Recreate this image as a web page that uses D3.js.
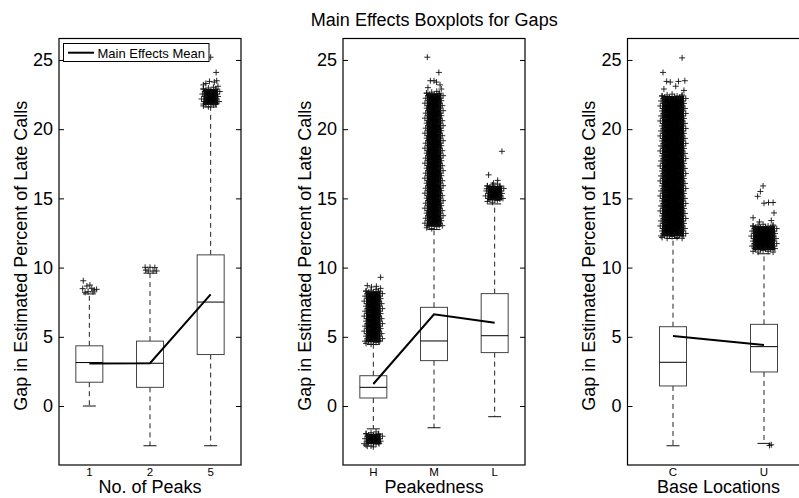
<!DOCTYPE html>
<html><head><meta charset="utf-8">
<script src="https://cdn.jsdelivr.net/npm/d3@7/dist/d3.min.js"></script>
<style>
body{margin:0;background:#fff}
svg{display:block}
text{font-family:"Liberation Sans",Arial,Helvetica,sans-serif;fill:#000}
</style>
</head><body>
<svg id="chart" width="799" height="498"></svg>
<script>
// ---------- data ----------
const chartTitle = "Main Effects Boxplots for Gaps";
const yAxisTitle = "Gap in Estimated Percent of Late Calls";
const yTicks = [0, 5, 10, 15, 20, 25];
const legendLabel = "Main Effects Mean";

// Panel 1: No. of Peaks
const peaksName = "No. of Peaks";
const peaksCats = ["1", "2", "5"];
const peaksQ1 = [1.72, 1.35, 3.72];
const peaksMedian = [3.14, 3.09, 7.51];
const peaksQ3 = [4.35, 4.69, 10.92];
const peaksWhiskLo = [0.0, -2.87, -2.87];
const peaksWhiskHi = [8.1, 9.6, 21.6];
const peaksMean = [3.07, 3.09, 8.06];
const peaksClouds = [[2, 21.75, 22.9]];            // [category, low, high] dense outlier bands
const peaksOutliers = [                            // [category, jitter, value]
  [0, -0.10, 9.05], [0, -0.11, 8.48], [0, -0.04, 8.67], [0, 0.01, 8.74], [0, 0.04, 8.5],
  [0, 0.08, 8.38], [0, 0.12, 8.43], [0, -0.02, 8.26], [0, -0.07, 8.21], [0, 0.06, 8.24],
  [1, -0.08, 10.02], [1, 0.0, 10.02], [1, 0.08, 10.0], [1, -0.03, 9.75], [1, 0.05, 9.75],
  [1, 0.11, 9.76], [1, -0.07, 9.82],
  [2, 0.0, 25.2], [2, 0.09, 24.1], [2, -0.08, 23.3], [2, -0.02, 23.45], [2, 0.06, 23.4],
  [2, 0.10, 23.5], [2, 0.12, 23.1], [2, -0.12, 23.2]
];

// Panel 2: Peakedness
const peakName = "Peakedness";
const peakCats = ["H", "M", "L"];
const peakQ1 = [0.58, 3.28, 3.86];
const peakMedian = [1.35, 4.70, 5.08];
const peakQ3 = [2.19, 7.13, 8.12];
const peakWhiskLo = [-1.65, -1.57, -0.77];
const peakWhiskHi = [4.45, 12.75, 14.6];
const peakMean = [1.59, 6.63, 6.02];
const peakClouds = [[0, 4.6, 8.3], [0, -2.75, -2.0], [1, 12.95, 22.6], [2, 14.85, 15.9]];
const peakOutliers = [
  [0, 0.12, 9.3], [0, -0.10, 8.7], [0, 0.05, 8.65], [0, 0.12, 8.5], [0, -0.03, 8.6],
  [0, -0.10, -2.9], [0, 0.0, -2.95],
  [1, -0.11, 25.2], [1, 0.08, 24.1], [1, -0.06, 23.5], [1, 0.0, 23.5], [1, 0.04, 23.4],
  [1, 0.10, 23.2], [1, -0.10, 23.0], [1, 0.12, 22.9],
  [2, 0.12, 18.4], [2, -0.10, 16.7], [2, 0.05, 16.3], [2, -0.02, 16.1], [2, -0.13, 15.7]
];

// Panel 3: Base Locations
const baseName = "Base Locations";
const baseCats = ["C", "U"];
const baseQ1 = [1.45, 2.46];
const baseMedian = [3.16, 4.29];
const baseQ3 = [5.73, 5.90];
const baseWhiskLo = [-2.87, -2.70];
const baseWhiskHi = [12.1, 11.0];
const baseMean = [5.06, 4.41];
const baseClouds = [[0, 12.25, 22.4], [1, 11.25, 13.0]];
const baseOutliers = [
  [0, 0.10, 25.15], [0, -0.11, 24.1], [0, -0.07, 23.45], [0, -0.03, 23.4], [0, 0.06, 23.45],
  [0, 0.13, 23.5], [0, 0.03, 23.1], [0, -0.10, 22.9], [0, 0.12, 22.8],
  [1, -0.01, 15.9], [1, -0.04, 15.5], [1, -0.07, 15.15], [1, 0.0, 14.65], [1, 0.05, 14.7],
  [1, 0.10, 14.7], [1, 0.11, 13.95], [1, -0.12, 13.6], [1, 0.08, 13.4], [1, -0.05, 13.3],
  [1, 0.06, -2.85], [1, 0.08, -2.8]
];

// ---------- build ----------
const panels = [
  {name: peaksName, cats: peaksCats, q1: peaksQ1, med: peaksMedian, q3: peaksQ3, lo: peaksWhiskLo, hi: peaksWhiskHi, mean: peaksMean, clouds: peaksClouds, out: peaksOutliers},
  {name: peakName, cats: peakCats, q1: peakQ1, med: peakMedian, q3: peakQ3, lo: peakWhiskLo, hi: peakWhiskHi, mean: peakMean, clouds: peakClouds, out: peakOutliers},
  {name: baseName, cats: baseCats, q1: baseQ1, med: baseMedian, q3: baseQ3, lo: baseWhiskLo, hi: baseWhiskHi, mean: baseMean, clouds: baseClouds, out: baseOutliers}
];

const svg = d3.select("#chart");
const plotTop = 38.5, plotBottom = 465, panelW = 182;
const lefts = [59, 343, 627.5];
const y = d3.scaleLinear().domain([-4.26, 26.55]).range([plotBottom, plotTop]);
const boxW = 27, capHalf = 6.5, arm = 3, cloudJit = 0.12;
const stagger = [0, 1.5, -1, 2, -1.8, 0.8];   // texture offsets for band edges

function plusPath(px, py) {
  return `M${px - arm},${py}H${px + arm}M${px},${py - arm}V${py + arm}`;
}

panels.forEach((p, pi) => {
  const L = lefts[pi];
  const n = p.cats.length;
  const x = d3.scaleLinear().domain([0.5, n + 0.5]).range([L, L + panelW]);
  const g = svg.append("g");

  const axL = d3.axisLeft(y).tickValues(yTicks).tickSize(-5).tickPadding(6).tickFormat(d3.format("d"));
  const gl = g.append("g").attr("transform", `translate(${L},0)`).call(axL);
  gl.select(".domain").remove();
  gl.selectAll("text").style("font-size", "18px").attr("fill", "#000");
  gl.selectAll("line").attr("stroke", "#000");
  const axR = d3.axisRight(y).tickValues(yTicks).tickSize(-5).tickFormat("");
  const gr = g.append("g").attr("transform", `translate(${L + panelW},0)`).call(axR);
  gr.select(".domain").remove();
  gr.selectAll("line").attr("stroke", "#000");

  g.selectAll(".xl").data(p.cats).enter().append("text")
    .attr("x", (d, i) => x(i + 1)).attr("y", 476)
    .attr("text-anchor", "middle").style("font-size", "11.5px").text(d => d);

  p.cats.forEach((c, i) => {
    const cx = x(i + 1);
    g.append("line").attr("x1", cx).attr("x2", cx).attr("y1", y(p.q3[i])).attr("y2", y(p.hi[i]))
      .attr("stroke", "#222").attr("stroke-dasharray", "5,4");
    g.append("line").attr("x1", cx).attr("x2", cx).attr("y1", y(p.q1[i])).attr("y2", y(p.lo[i]))
      .attr("stroke", "#222").attr("stroke-dasharray", "5,4");
    [p.hi[i], p.lo[i]].forEach(v => {
      g.append("line").attr("x1", cx - capHalf).attr("x2", cx + capHalf).attr("y1", y(v)).attr("y2", y(v))
        .attr("stroke", "#111");
    });
    g.append("rect").attr("x", cx - boxW / 2).attr("y", y(p.q3[i]))
      .attr("width", boxW).attr("height", y(p.q1[i]) - y(p.q3[i]))
      .attr("fill", "none").attr("stroke", "#444");
    g.append("line").attr("x1", cx - boxW / 2).attr("x2", cx + boxW / 2)
      .attr("y1", y(p.med[i])).attr("y2", y(p.med[i])).attr("stroke", "#000");
  });

  p.clouds.forEach(([ci, lo, hi]) => {
    const cx = x(ci + 1);
    const jw = x(1 + cloudJit) - x(1);
    const y0 = y(hi), y1 = y(lo);
    g.append("rect").attr("x", cx - jw).attr("y", y0).attr("width", 2 * jw).attr("height", y1 - y0)
      .attr("fill", "#000");
    let d = "", k = 0;
    for (let yy = y0; yy <= y1 + 0.01; yy += 2.5, k++) {
      const s = stagger[k % stagger.length];
      d += plusPath(cx - jw + s, yy) + plusPath(cx + jw - stagger[(k + 3) % stagger.length], yy);
    }
    k = 0;
    for (let xx = cx - jw; xx <= cx + jw + 0.01; xx += 2.5, k++) {
      d += plusPath(xx, y0 + stagger[k % stagger.length]) + plusPath(xx, y1 - stagger[(k + 2) % stagger.length]);
    }
    g.append("path").attr("d", d).attr("fill", "none").attr("stroke", "#111").attr("stroke-width", 0.9);
  });

  let od = "";
  p.out.forEach(([ci, j, v]) => { od += plusPath(x(ci + 1 + j), y(v)); });
  g.append("path").attr("d", od).attr("fill", "none").attr("stroke", "#111").attr("stroke-width", 0.9);

  const line = d3.line().x((d, i) => x(i + 1)).y(d => y(d));
  g.append("path").attr("d", line(p.mean)).attr("fill", "none").attr("stroke", "#000").attr("stroke-width", 2);

  g.append("rect").attr("x", L).attr("y", plotTop).attr("width", panelW).attr("height", plotBottom - plotTop)
    .attr("fill", "none").attr("stroke", "#000").attr("stroke-width", 1.2);

  g.append("text").attr("transform", `translate(${L - 32.5},${(plotTop + plotBottom) / 2 + 4}) rotate(-90)`)
    .attr("text-anchor", "middle").style("font-size", "18px").text(yAxisTitle);
  g.append("text").attr("x", L + panelW / 2).attr("y", 493)
    .attr("text-anchor", "middle").style("font-size", "18px").text(p.name);
});

svg.append("text").attr("x", (lefts[0] + lefts[2] + panelW) / 2).attr("y", 26)
  .attr("text-anchor", "middle").style("font-size", "18px").text(chartTitle);

const lg = svg.append("g");
lg.append("rect").attr("x", 63.5).attr("y", 43.5).attr("width", 145.5).attr("height", 18)
  .attr("fill", "#fff").attr("stroke", "#000").attr("stroke-width", 1);
lg.append("line").attr("x1", 68).attr("x2", 94).attr("y1", 52.7).attr("y2", 52.7)
  .attr("stroke", "#000").attr("stroke-width", 2);
lg.append("text").attr("x", 97.5).attr("y", 57.5).style("font-size", "13px").text(legendLabel);
</script>
</body></html>
